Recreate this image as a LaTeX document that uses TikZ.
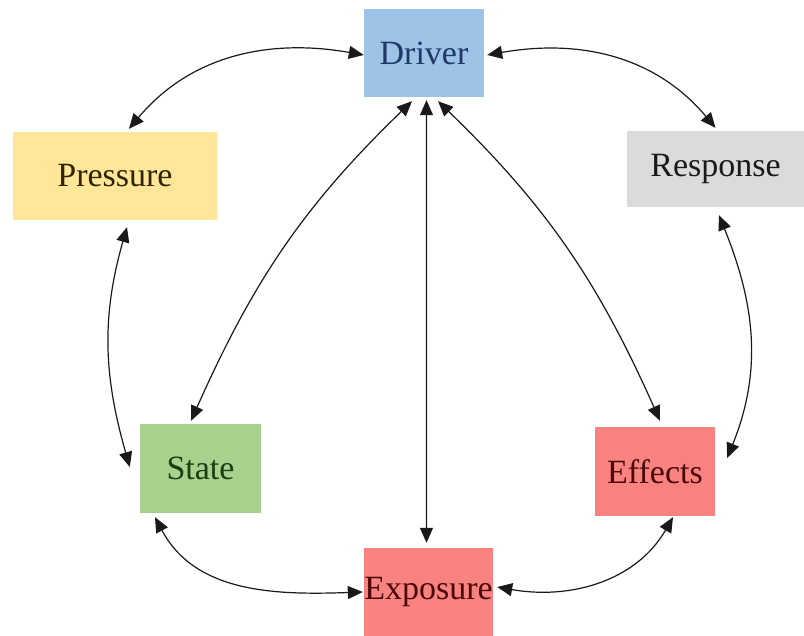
\documentclass[tikz,border=0pt]{standalone}
\usepackage{fontspec}
\setmainfont{Liberation Serif}
\usetikzlibrary{positioning, arrows.meta}

\definecolor{drvfill}{HTML}{9DC3E6}
\definecolor{drvtext}{HTML}{1F3864}
\definecolor{prsfill}{HTML}{FFE699}
\definecolor{prstext}{HTML}{2E2400}
\definecolor{rspfill}{HTML}{DBDBDB}
\definecolor{rsptext}{HTML}{1A1A1A}
\definecolor{sttfill}{HTML}{A9D18E}
\definecolor{stttext}{HTML}{1E3D12}
\definecolor{redfill}{HTML}{F8827F}
\definecolor{redtext}{HTML}{4A0808}

\begin{document}
\begin{tikzpicture}[x=1bp, y=1bp,
    box/.style={inner sep=0pt, font=\fontsize{34bp}{40bp}\selectfont},
    link/.style={{Triangle[length=15bp,width=13bp]}-{Triangle[length=15bp,width=13bp]}, line width=1.2bp, draw=black!90}]
                \useasboundingbox (0,0) rectangle (804,-636);
                \node [box, fill=drvfill, text=drvtext, minimum width=120bp, minimum height=88bp] (Driver) at (424,-53) {Driver};
                \node [box, fill=prsfill, text=prstext, minimum width=204bp, minimum height=88bp] (Pressure) at (115,-176) {Pressure};
                \node [box, fill=rspfill, text=rsptext, minimum width=177bp, minimum height=76bp] (Response) at (715.5,-169) {Response};
                \node [box, fill=sttfill, text=stttext, minimum width=121bp, minimum height=89bp] (State) at (200.5,-468.5) {State};
                \node [box, fill=redfill, text=redtext, minimum width=129bp, minimum height=88bp] (Exposure) at (428.5,-592) {Exposure};
                \node [box, fill=redfill, text=redtext, minimum width=120bp, minimum height=89bp] (Effects) at (655,-471.5) {Effects};
                \draw [link] ([yshift=-2bp]Driver.west) to [out=170, in=50] ([xshift=14bp,yshift=3bp]Pressure.north);
                \draw [link] ([xshift=3bp,yshift=-2bp]Driver.east) to [out=10, in=130] ([yshift=3bp]Response.north);
                \draw [link] ([xshift=12bp,yshift=-7bp]Pressure.south) to [out=254, in=106] ([xshift=-10bp,yshift=1.5bp]State.west);
                \draw [link] ([xshift=3.5bp,yshift=-8bp]Response.south) to [out=292, in=68] ([xshift=12bp,yshift=13.5bp]Effects.east);
                \draw [link] ([xshift=-45.5bp,yshift=-4bp]State.south) to [out=298, in=182] ([xshift=-1bp]Exposure.west);
                \draw [link] ([xshift=18bp,yshift=-1bp]Effects.south) to [out=240, in=-10] ([xshift=4bp,yshift=5bp]Exposure.east);
                \draw [link] ([xshift=-12bp,yshift=-4bp]Driver.south) to [out=224, in=66] ([xshift=-9.5bp,yshift=3bp]State.north);
                \draw [link] ([xshift=2.5bp,yshift=-3bp]Driver.south) -- ([xshift=-2bp,yshift=5bp]Exposure.north);
                \draw [link] ([xshift=14bp,yshift=-4bp]Driver.south) to [out=316, in=114] ([xshift=5bp,yshift=6bp]Effects.north);
            \end{tikzpicture}
\end{document}
